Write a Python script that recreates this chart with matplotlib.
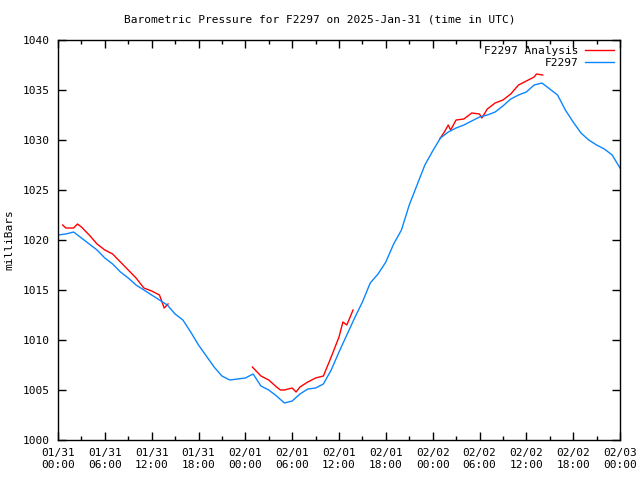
from datetime import datetime, timedelta
import matplotlib
matplotlib.use('Agg')
from matplotlib import pyplot as plt
from matplotlib.ticker import MultipleLocator

# hours since 2025-01-31 00:00 UTC
obs_hours = list(range(0, 73))
obs_mb = [1020.5, 1020.6, 1020.8, 1020.2, 1019.6, 1019.0, 1018.2, 1017.6, 1016.8, 1016.2,
          1015.5, 1015.0, 1014.5, 1014.0, 1013.5, 1012.6, 1012.0, 1010.8, 1009.5, 1008.4,
          1007.3, 1006.4, 1006.0, 1006.1, 1006.2, 1006.6, 1005.4, 1005.0, 1004.4, 1003.7,
          1003.9, 1004.6, 1005.1, 1005.2, 1005.6, 1007.0, 1008.8, 1010.5, 1012.2, 1013.8,
          1015.7, 1016.6, 1017.8, 1019.6, 1021.0, 1023.5, 1025.5, 1027.5, 1028.9, 1030.2,
          1030.8, 1031.2, 1031.5, 1031.9, 1032.3, 1032.5, 1032.8, 1033.4, 1034.1, 1034.5,
          1034.8, 1035.5, 1035.7, 1035.1, 1034.5, 1033.0, 1031.8, 1030.7, 1030.0, 1029.5,
          1029.1, 1028.5, 1027.2]

# analysis segments
ana1_hours = [0.6, 1, 2, 2.5, 3, 4, 5, 6, 7, 8, 9, 10, 11, 12, 13, 13.6, 14.1]
ana1_mb = [1021.5, 1021.2, 1021.2, 1021.6, 1021.3, 1020.5, 1019.6, 1019.0, 1018.6, 1017.8,
           1017.0, 1016.2, 1015.2, 1014.9, 1014.5, 1013.2, 1013.6]
ana2_hours = [24.9, 26, 27, 28, 28.5, 29, 30, 30.5, 31, 32, 33, 34, 35, 36, 36.5, 37, 37.8]
ana2_mb = [1007.3, 1006.4, 1006.0, 1005.3, 1005.0, 1005.0, 1005.2, 1004.8, 1005.3, 1005.8,
           1006.2, 1006.4, 1008.3, 1010.3, 1011.8, 1011.5, 1013.0]
ana3_hours = [48.9, 49.5, 50, 50.3, 51, 52, 53, 54, 54.3, 55, 56, 57, 58, 59, 60, 61, 61.3, 62.1]
ana3_mb = [1030.1, 1030.8, 1031.5, 1031.0, 1032.0, 1032.1, 1032.7, 1032.6, 1032.2, 1033.1,
           1033.7, 1034.0, 1034.6, 1035.5, 1035.9, 1036.3, 1036.6, 1036.5]

start = datetime(2025, 1, 31)
tick_hours = list(range(0, 73, 6))
tick_labels = [(start + timedelta(hours=h)).strftime('%m/%d\n%H:%M') for h in tick_hours]

red = '#ff0000'
blue = '#0a86ff'
font = 'DejaVu Sans Mono'

fig = plt.figure(figsize=(6.4, 4.8), dpi=100)
ax = fig.add_axes([58 / 640, 40 / 480, 562 / 640, 400 / 480])

ax.plot(ana1_hours, ana1_mb, color=red, lw=1, label='F2297 Analysis')
ax.plot(ana2_hours, ana2_mb, color=red, lw=1)
ax.plot(ana3_hours, ana3_mb, color=red, lw=1)
ax.plot(obs_hours, obs_mb, color=blue, lw=1, label='F2297')

ax.set_xlim(0, 72)
ax.set_ylim(1000, 1040)
ax.set_xticks(tick_hours)
ax.set_xticklabels(tick_labels, fontsize=8, family=font)
ax.xaxis.set_minor_locator(MultipleLocator(3))
ax.yaxis.set_major_locator(MultipleLocator(5))
for lbl in ax.get_yticklabels():
    lbl.set_family(font)
    lbl.set_fontsize(8)
ax.tick_params(which='both', direction='in', top=True, right=True, width=1)
ax.tick_params(which='major', length=6, pad=6)
ax.tick_params(which='minor', length=3)
for s in ax.spines.values():
    s.set_linewidth(1)

ax.set_ylabel('milliBars', fontsize=8, family=font, labelpad=6)
fig.text(0.5, 1 - 19 / 480, 'Barometric Pressure for F2297 on 2025-Jan-31 (time in UTC)',
         ha='center', va='center', fontsize=8, family=font)

ax.legend(loc='upper right', frameon=False, markerfirst=False, handlelength=2.6,
          handletextpad=0.6, prop={'family': font, 'size': 8}, borderaxespad=0.15,
          labelspacing=0.15)

fig.savefig('out.png', dpi=100)
